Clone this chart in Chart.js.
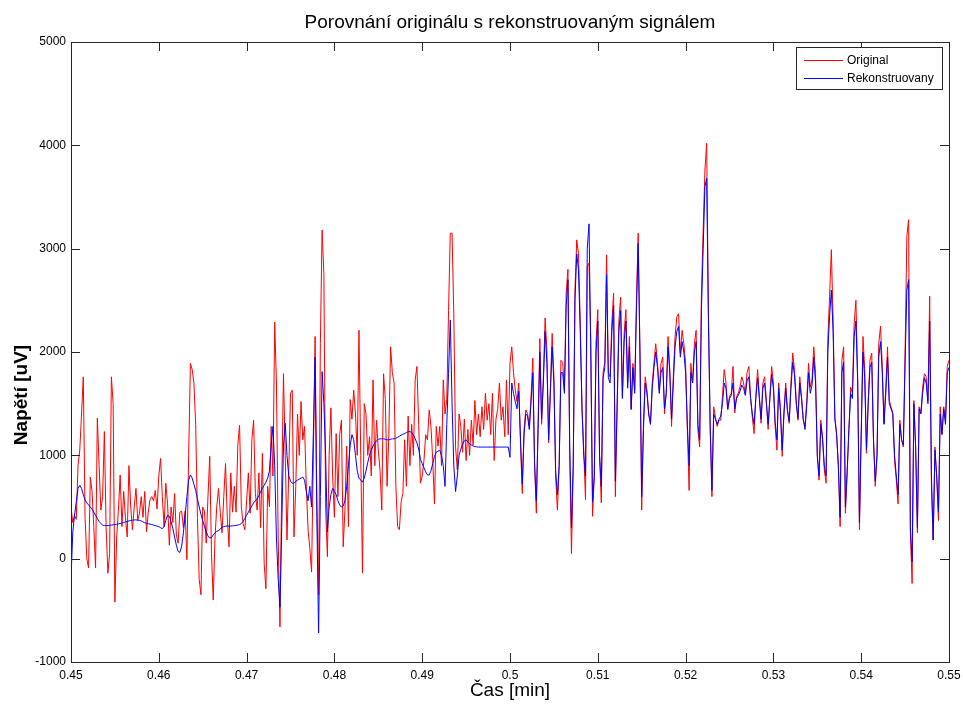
<!DOCTYPE html>
<html>
<head>
<meta charset="utf-8">
<title>Porovnání originálu s rekonstruovaným signálem</title>
<script src="https://cdn.jsdelivr.net/npm/chart.js@4.4.0/dist/chart.umd.min.js"></script>
<style>
  html, body { margin: 0; padding: 0; background: #fff; }
</style>
</head>
<body>
<canvas id="myChart" width="963" height="704"></canvas>
<script>
// sampling grid of the signal (minutes)
var tStart = 0.45
var tStep = 0.0002

var xTicks = [0.45, 0.46, 0.47, 0.48, 0.49, 0.5, 0.51, 0.52, 0.53, 0.54, 0.55]
var xTickLabels = ['0.45', '0.46', '0.47', '0.48', '0.49', '0.5', '0.51', '0.52', '0.53', '0.54', '0.55']
var yTicks = [-1000, 0, 1000, 2000, 3000, 4000, 5000]
var yTickLabels = ['-1000', '0', '1000', '2000', '3000', '4000', '5000']

var seriesNames = ['Original', 'Rekonstruovany']
var seriesColors = ['#ff0000', '#0000ff']
var yTitle = 'Napětí [uV]'

// original signal [uV]
var original = [
  500, 350, 420, 380, 900, 1050, 1400, 1760, 400, 0,
  -90, 790, 650, 300, -90, 1360, 900, 470, 600, 1230,
  300, -140, 50, 1760, 1500, -420, 200, 470, 810, 310,
  650, 400, 210, 900, 500, 280, 500, 680, 370, 440,
  600, 400, 650, 260, 450, 570, 600, 560, 660, 480,
  800, 970, 600, 310, 730, 530, 130, 500, 350, 630,
  230, 150, 450, 460, 300, 460, -10, 1000, 1890, 1830,
  1700, 1300, 400, -200, -350, 500, 460, 150, 600, 990,
  50, -400, 200, 500, 680, 450, 250, 600, 920, 400,
  115, 830, 450, 700, 450, 1100, 1290, 500, 340, 280,
  560, 830, 440, 1150, 1340, 630, 470, 830, 300, 1020,
  -50, -290, 700, 500, 1280, 800, 2290, 1700, 180, -660,
  700, 1790, 1000, 180, 830, 1600, 1630, 210, 700, 1400,
  1000, 1520, 1150, 1280, 700, 280, 100, -130, 960, 2150,
  600, -350, 2080, 3180, 2760, 500, 20, 1000, 1460, 800,
  400, 1210, 600, 1200, 1340, 115, 470, 1090, 310, 1540,
  1350, 1630, 1400, 1000, 2210, 1000, -140, 1500, 1400, 1000,
  1180, 800, 1730, 900, 1340, 1050, 850, 470, 1790, 1540,
  700, 1200, 2050, 1800, 1700, 700, 310, 280, 550, 630,
  1150, 700, 1380, 900, 1300, 1000, 1730, 1860, 1300, 730,
  800, 950, 1200, 1150, 1440, 1280, 950, 530, 1280, 1090,
  1280, 900, 1730, 1400, 1540, 2400, 3150, 3150, 2370, 1080,
  860, 1400, 1280, 1030, 1350, 950, 1250, 1000, 1340, 1100,
  1530, 1200, 1400, 1180, 1470, 1250, 1600, 1340, 1500, 1200,
  1600, 950, 1350, 1450, 1700, 1340, 1470, 1180, 1730, 1200,
  1890, 2050, 1800, 1630, 1520, 1700, 1100, 630, 1250, 1440,
  1400, 1280, 1570, 1940, 900, 440, 1310, 2130, 1300, 1760,
  2330, 2020, 1120, 1660, 2180, 1760, 790, 470, 900, 1920,
  1900, 1630, 2570, 2800, 1000, 50, 860, 2600, 3085, 2950,
  2300, 1470, 1050, 570, 2830, 2860, 2100, 410, 790, 2100,
  2410, 990, 540, 1800, 1900, 2940, 1800, 1760, 2280, 2570,
  600, 1500, 2300, 2530, 1570, 2180, 2410, 1700, 2150, 1440,
  1890, 1630, 2500, 3150, 2000, 470, 1310, 1760, 1630, 1400,
  1310, 1700, 1900, 2080, 1890, 1630, 1890, 1950, 1400, 1630,
  2150, 1830, 1280, 1760, 2150, 2340, 2370, 1990, 2210, 2080,
  1890, 1250, 660, 1890, 1700, 2080, 2210, 1250, 1080, 2540,
  3180, 3760, 4020, 2370, 1250, 600, 1470, 1370, 1280, 1340,
  1340, 1570, 1830, 1700, 1440, 1570, 1600, 1860, 1410, 1570,
  1600, 1665, 1760, 1700, 1600, 1800, 1860, 1570, 1370, 1210,
  1570, 1830, 1570, 1310, 1700, 1760, 1530, 1250, 1570, 1860,
  1700, 1280, 1050, 1700, 1440, 990, 1410, 1700, 1440, 1310,
  1700, 1990, 1830, 1530, 1340, 1760, 1570, 1340, 1280, 1530,
  1890, 1660, 1730, 2050, 1790, 990, 760, 1340, 1180, 860,
  730, 2120, 2540, 2990, 2310, 1370, 1210, 890, 310, 1920,
  2050, 440, 820, 1250, 1660, 1600, 2280, 2500, 1730, 280,
  1210, 2150, 1830, 1020, 1530, 1920, 1990, 1150, 700, 990,
  2080, 2250, 1860, 1310, 1660, 2050, 1530, 1470, 1410, 950,
  760, 530, 1340, 1150, 1080, 2000, 3120, 3280, 250, -240,
  1530, 1080, 250, 1470, 1410, 1660, 1790, 1760, 1530, 2540,
  700, 180, 1080, 790, 370, 1470, 1210, 1470, 1340, 1860,
  1920
]

// reconstructed signal [uV]
var rekonstruovany = [
  -200, 250, 420, 550, 680, 710, 680, 620, 570, 540,
  520, 500, 480, 450, 420, 390, 360, 340, 325, 320,
  320, 320, 322, 325, 328, 330, 333, 336, 340, 345,
  350, 355, 360, 365, 370, 372, 375, 375, 373, 370,
  365, 355, 348, 342, 338, 334, 330, 325, 320, 315,
  310, 300, 290, 310, 370, 420, 410, 360, 290, 210,
  130, 70, 60, 120, 250, 420, 600, 760, 810, 780,
  720, 660, 580, 500, 430, 370, 310, 260, 220, 200,
  205, 230, 250, 265, 270, 290, 300, 310, 315, 315,
  315, 315, 318, 320, 322, 325, 330, 340, 360, 390,
  420, 450, 480, 510, 540, 560, 580, 610, 650, 680,
  710, 740, 780, 850, 1100, 1280, 900, 200, -200, -470,
  300, 1100, 1310, 1000, 800, 750, 730, 730, 750, 760,
  770, 780, 790, 760, 650, 560, 700, 500, 1200, 1950,
  400, -720, 600, 1810, 1500, 1000, 260, 500, 620, 680,
  650, 620, 560, 520, 500, 510, 560, 700, 900, 1100,
  1200, 1150, 1000, 850, 780, 760, 740, 780, 850, 930,
  1000, 1050, 1090, 1120, 1140, 1155, 1160, 1160, 1160, 1155,
  1150, 1150, 1155, 1160, 1160, 1165, 1175, 1185, 1195, 1205,
  1210, 1220, 1230, 1230, 1220, 1200, 1160, 1120, 1060, 960,
  920, 880, 840, 810, 810, 850, 920, 990, 1030, 1040,
  1050, 1000, 900, 700, 1300, 1790, 2310, 1500, 900, 650,
  800, 1000, 1060, 1110, 1140, 1150, 1130, 1110, 1100, 1090,
  1085, 1082, 1080, 1080, 1080, 1080, 1080, 1080, 1080, 1080,
  1080, 1080, 1080, 1080, 1080, 1080, 1080, 1080, 1080, 1080,
  980, 1700, 1600, 1520, 1450, 1620, 1150, 720, 1200, 1400,
  1380, 1250, 1520, 1800, 920, 560, 1250, 2000, 1350, 1700,
  2200, 1900, 1150, 1600, 2050, 1700, 850, 620, 900, 1800,
  1800, 1600, 2450, 2700, 1100, 300, 900, 2500, 2950, 2800,
  2200, 1450, 1000, 800, 3000, 3240, 2000, 550, 800, 2000,
  2300, 1000, 700, 1750, 1850, 2750, 1750, 1700, 2200, 2450,
  750, 1450, 2200, 2400, 1550, 2100, 2300, 1650, 2050, 1450,
  1850, 1600, 2400, 3050, 2000, 600, 1250, 1700, 1600, 1400,
  1300, 1650, 1850, 2000, 1850, 1600, 1800, 1850, 1450, 1600,
  2050, 1800, 1350, 1700, 2050, 2200, 2250, 1950, 2100, 2000,
  1800, 1300, 900, 1800, 1700, 2000, 2100, 1300, 1150, 2400,
  3000, 3600, 3680, 2300, 1300, 660, 1400, 1350, 1300, 1350,
  1380, 1500, 1700, 1650, 1450, 1550, 1580, 1700, 1450, 1550,
  1580, 1620, 1680, 1650, 1580, 1720, 1760, 1550, 1400, 1300,
  1550, 1750, 1550, 1350, 1650, 1700, 1500, 1300, 1550, 1780,
  1650, 1320, 1150, 1650, 1430, 1050, 1400, 1650, 1430, 1330,
  1650, 1900, 1780, 1500, 1360, 1700, 1550, 1350, 1250, 1480,
  1800, 1600, 1680, 1950, 1700, 1000, 800, 1300, 1150, 900,
  800, 2000, 2350, 2600, 2200, 1350, 1200, 900, 400, 1800,
  1900, 500, 850, 1250, 1600, 1550, 2150, 2300, 1700, 350,
  1200, 2000, 1750, 1050, 1500, 1850, 1900, 1150, 750, 1000,
  1950, 2100, 1800, 1300, 1600, 1950, 1500, 1450, 1400, 1000,
  800, 620, 1300, 1150, 1100, 1900, 2600, 2700, 300, -30,
  1500, 1080, 300, 1450, 1400, 1600, 1750, 1700, 1500, 2300,
  800, 180, 1050, 800, 450, 1400, 1200, 1450, 1300, 1800,
  1850
]

var fontName = '"Liberation Sans", Arial, Helvetica, sans-serif'

function toPoints(values) {
  var pts = []
  for (var i = 0; i < values.length; i++) {
    pts.push({ x: tStart + i * tStep, y: values[i] })
  }
  return pts
}

// box around the plot + ticks pointing inwards (matlab look)
var frame = {
  id: 'frame',
  afterDatasetsDraw: function (chart) {
    var c = chart.ctx
    var a = chart.chartArea
    var sx = chart.scales.x
    var sy = chart.scales.y
    var len = 9
    c.save()
    c.strokeStyle = '#262626'
    c.lineWidth = 1
    c.beginPath()
    xTicks.forEach(function (v) {
      var px = Math.round(sx.getPixelForValue(v)) + 0.5
      c.moveTo(px, a.bottom)
      c.lineTo(px, a.bottom - len)
      c.moveTo(px, a.top)
      c.lineTo(px, a.top + len)
    })
    yTicks.forEach(function (v) {
      var py = Math.round(sy.getPixelForValue(v)) + 0.5
      c.moveTo(a.left, py)
      c.lineTo(a.left + len, py)
      c.moveTo(a.right, py)
      c.lineTo(a.right - len, py)
    })
    c.stroke()
    c.strokeRect(Math.round(a.left) + 0.5, Math.round(a.top) + 0.5,
      Math.round(a.right - a.left), Math.round(a.bottom - a.top))

    // y label, sits a bit below the middle of the axis like in the original figure
    c.translate(22, 395)
    c.rotate(-Math.PI / 2)
    c.fillStyle = '#000'
    c.font = 'bold 19px ' + fontName
    c.textAlign = 'center'
    c.textBaseline = 'middle'
    c.fillText(yTitle, 0, 0)
    c.restore()
  }
}

// legend box in the upper right corner of the axes
var legendBox = {
  id: 'legendBox',
  afterDraw: function (chart) {
    var c = chart.ctx
    var a = chart.chartArea
    var bx = Math.round(a.right - 153)
    var by = Math.round(a.top + 5)
    var bw = 146
    var bh = 42
    c.save()
    c.fillStyle = '#fff'
    c.fillRect(bx, by, bw, bh)
    c.strokeStyle = '#262626'
    c.lineWidth = 1
    c.strokeRect(bx + 0.5, by + 0.5, bw, bh)
    c.font = '12px ' + fontName
    c.textBaseline = 'middle'
    c.textAlign = 'left'
    for (var i = 0; i < seriesNames.length; i++) {
      var ly = by + 13 + i * 18
      c.fillStyle = seriesColors[i]
      c.fillRect(bx + 8, ly, 39, 1)
      c.fillStyle = '#000'
      c.fillText(seriesNames[i], bx + 51, ly + 0.5)
    }
    c.restore()
  }
}

function noSidePadding(s) {
  s.height = 42
  s.paddingLeft = 0
  s.paddingRight = 0
}

var myChart = document.getElementById('myChart').getContext('2d')

var chart = new Chart(myChart, {
  type: 'line',
  data: {
    datasets: [
      {
        label: seriesNames[0],
        data: toPoints(original),
        borderColor: seriesColors[0],
        borderWidth: 1,
        pointRadius: 0,
        tension: 0,
        order: 1
      },
      {
        label: seriesNames[1],
        data: toPoints(rekonstruovany),
        borderColor: seriesColors[1],
        borderWidth: 1,
        pointRadius: 0,
        tension: 0,
        order: 0
      }
    ]
  },
  options: {
    responsive: false,
    animation: false,
    layout: { padding: { left: 0, right: 14, top: 0, bottom: 0 } },
    plugins: {
      legend: { display: false },
      title: { display: false },
      tooltip: { enabled: false }
    },
    scales: {
      x: {
        type: 'linear',
        position: 'bottom',
        min: 0.45,
        max: 0.55,
        afterFit: noSidePadding,
        afterBuildTicks: function (s) {
          s.ticks = xTicks.map(function (v) { return { value: v } })
        },
        grid: { display: false, drawTicks: false },
        border: { display: false },
        ticks: {
          autoSkip: false,
          maxRotation: 0,
          padding: 6,
          color: '#000',
          font: { family: fontName, size: 12 },
          callback: function (v, i) { return xTickLabels[i] }
        },
        title: {
          display: true,
          text: 'Čas [min]',
          color: '#000',
          font: { family: fontName, size: 19 },
          padding: { top: 0, bottom: 2 }
        }
      },
      xTop: {
        type: 'linear',
        position: 'top',
        min: 0.45,
        max: 0.55,
        afterFit: noSidePadding,
        grid: { display: false, drawTicks: false },
        border: { display: false },
        ticks: { display: false },
        title: {
          display: true,
          text: 'Porovnání originálu s rekonstruovaným signálem',
          color: '#000',
          font: { family: fontName, size: 19 },
          padding: { top: 11, bottom: 0 }
        }
      },
      y: {
        type: 'linear',
        position: 'left',
        min: -1000,
        max: 5000,
        afterFit: function (s) { s.width = 71 },
        afterBuildTicks: function (s) {
          s.ticks = yTicks.map(function (v) { return { value: v } })
        },
        grid: { display: false, drawTicks: false },
        border: { display: false },
        ticks: {
          padding: 5,
          color: '#000',
          font: { family: fontName, size: 12 },
          callback: function (v, i) { return yTickLabels[i] }
        },
        title: { display: false }
      }
    }
  },
  plugins: [frame, legendBox]
})
</script>
</body>
</html>
